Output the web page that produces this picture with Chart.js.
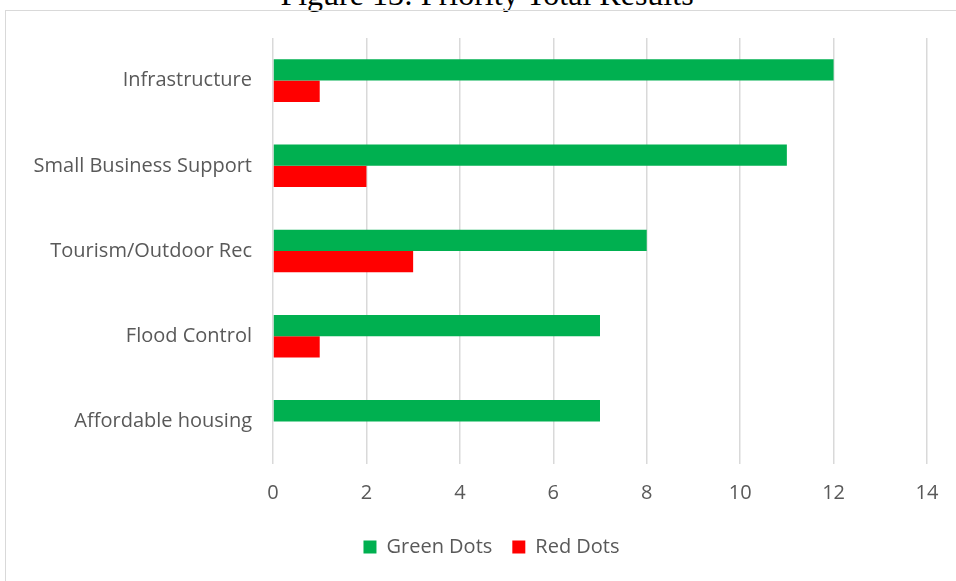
<!DOCTYPE html>
<html>
<head>
<meta charset="utf-8">
<title>Priority Total Results</title>
<script src="https://cdn.jsdelivr.net/npm/chart.js@4.4.1/dist/chart.umd.min.js"></script>
<style>
  html, body { margin: 0; padding: 0; background: #ffffff; overflow: hidden; }
  #wrap { position: relative; width: 956px; height: 581px; overflow: hidden; }
  #heading {
    position: absolute; left: 9px; top: -22px; width: 956px; text-align: center; line-height: 32px;
    font-family: "Liberation Serif", "DejaVu Serif", serif; font-size: 32px; color: #000000;
  }
  #frame {
    position: absolute; left: 5px; top: 10px; width: 960px; height: 580px;
    border: 1px solid #d9d9d9; box-sizing: border-box;
  }
  canvas { position: absolute; left: 0; top: 0; }
</style>
</head>
<body>
<div id="wrap">
  <div id="heading">Figure 13: Priority Total Results</div>
  <div id="frame"></div>
  <canvas id="chart" width="956" height="581"></canvas>
</div>
<script>
"use strict";

const priorities = ["Infrastructure", "Small Business Support", "Tourism/Outdoor Rec", "Flood Control", "Affordable housing"];
const greenDots = [12, 11, 8, 7, 7];
const redDots = [1, 2, 3, 1, 0];
const tickStep = 2;
const axisMax = 14;

const labelFont = { family: "'Open Sans', 'Liberation Sans', sans-serif", size: 20 };
const labelGray = "#595959";

let canvasElem = document.getElementById("chart");

Chart.defaults.font.family = labelFont.family;
Chart.defaults.color = labelGray;

// the legend sits centred under the whole frame, not under the canvas
const legendShift = {
  id: "legendShift",
  afterLayout(chart) {
    chart.legend.left += 28;
    chart.legend.right += 28;
  },
};

const data = {
  labels: priorities,
  datasets: [
    {
      label: "Green Dots",
      data: greenDots,
      backgroundColor: "#00b050",
      borderWidth: 0,
      categoryPercentage: 0.5,
      barPercentage: 1.0,
    },
    {
      label: "Red Dots",
      data: redDots,
      backgroundColor: "#ff0000",
      borderWidth: 0,
      categoryPercentage: 0.5,
      barPercentage: 1.0,
    },
  ],
};

const config = {
  type: "bar",
  data: data,
  plugins: [legendShift],
  options: {
    indexAxis: "y",
    responsive: false,
    animation: false,
    layout: { padding: { top: 38, right: 29, left: 0, bottom: 14 } },
    scales: {
      x: {
        min: 0,
        max: axisMax,
        ticks: { stepSize: tickStep, padding: 17, font: labelFont, color: labelGray },
        grid: { color: "#d9d9d9", lineWidth: 1.5, drawTicks: false },
        border: { display: false },
        afterFit: function (scale) { scale.height = 53; },
      },
      y: {
        ticks: { padding: 21, font: labelFont, color: labelGray },
        grid: { display: false, drawTicks: false },
        border: { display: false },
        afterFit: function (scale) { scale.width = 273; },
      },
    },
    plugins: {
      legend: {
        position: "bottom",
        labels: { boxWidth: 13, boxHeight: 13, padding: 20, font: labelFont, color: labelGray },
      },
      tooltip: { enabled: false },
    },
  },
};

const newChart = new Chart(canvasElem, config);
</script>
</body>
</html>
